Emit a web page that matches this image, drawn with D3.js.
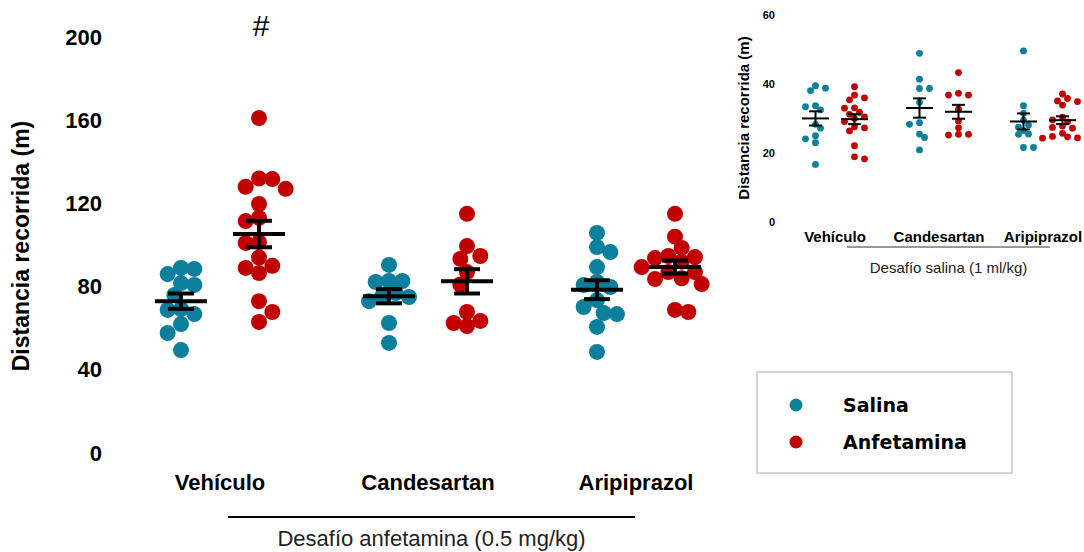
<!DOCTYPE html>
<html>
<head>
<meta charset="utf-8">
<script src="https://cdn.jsdelivr.net/npm/d3@7"></script>
<style>
  html, body { margin: 0; padding: 0; background: #fff; }
  svg { display: block; }
</style>
</head>
<body>
<svg id="chart" width="1084" height="552"></svg>
<script>
// Treatment groups and challenge series
const categories = ["Vehículo", "Candesartan", "Aripiprazol"];
const series = ["Salina", "Anfetamina"];
const seriesColors = ["#0b7f9b", "#c00000"];

// Desafío anfetamina (0.5 mg/kg): distance per animal (m), one array per treatment
const mainSalina = [
  [89, 88.5, 86, 81.7, 80.8, 76, 69.2, 68.8, 66.8, 62, 57.7, 49.5],
  [90.4, 82.7, 82.7, 82.2, 76.9, 75.5, 75, 73, 62.5, 52.9],
  [105.8, 99, 96.6, 89.4, 82.2, 80.8, 79.8, 73.5, 70.2, 67.3, 66.8, 60.6, 48.6]
];
const mainAnfetamina = [
  [161, 132, 131.7, 128, 127, 119.7, 113, 111.5, 101.4, 101, 94, 90, 89, 86.5, 73, 67.8, 63],
  [115, 99.5, 94.7, 93.3, 87, 81, 67.8, 63.5, 62.5, 61],
  [115, 104, 98.6, 94.7, 94.2, 93.7, 92, 89.4, 87, 87, 84, 83.6, 81.2, 68.8, 67.8]
];
const mainTicks = [0, 40, 80, 120, 160, 200];

// Desafío salina (1 ml/kg)
const insetSalina = [
  [39.5, 38.8, 38.1, 33.7, 33.4, 32.5, 28.3, 27.2, 25, 24.1, 23, 16.7],
  [48.9, 41.4, 38.7, 38.7, 34.7, 28.8, 28.3, 25.5, 24.5, 20.9],
  [49.6, 33.7, 31.5, 29.5, 28.1, 27.5, 26.5, 25.5, 25.4, 21.6, 21.6]
];
const insetAnfetamina = [
  [39.2, 36.8, 36, 35.4, 33.1, 33, 31.8, 31.2, 30.5, 30, 29.1, 27.6, 27.3, 26.4, 22.1, 18.9, 18.3],
  [43.3, 37.3, 36.8, 36.8, 32.7, 29.3, 27.3, 25.4, 25.4, 25.2],
  [37.1, 35.8, 35.1, 34.9, 33.9, 30.4, 29.6, 29, 27.8, 27.4, 27.2, 25.7, 24.8, 24.7, 24.4, 24.3]
];
const insetTicks = [0, 20, 40, 60];

const FONT = "'Liberation Sans', Arial, sans-serif";
const svg = d3.select("#chart");

// Horizontal dodge: points sorted by value, each takes the nearest column
// (multiples of `step`) where it does not collide with points already placed.
function swarm(values, y, step, minDist) {
  const order = d3.range(values.length).sort((a, b) => values[b] - values[a]);
  const placed = [];
  const offsets = new Array(values.length);
  order.forEach(i => {
    const py = y(values[i]);
    const balance = d3.sum(placed, p => p.x);
    for (let k = 0; k < 40; k++) {
      const cands = k === 0 ? [0] : (balance > 0 ? [-k * step, k * step] : [k * step, -k * step]);
      const ok = cands.find(cx => placed.every(p => Math.hypot(p.x - cx, p.y - py) >= minDist));
      if (ok !== undefined) {
        placed.push({ x: ok, y: py });
        offsets[i] = ok;
        return;
      }
    }
  });
  return offsets;
}

function drawPanel(opt) {
  const g = svg.append("g");
  const x = d3.scaleBand().domain(categories).range(opt.xRange);
  const xs = d3.scalePoint().domain(series).range([-opt.sub, opt.sub]);
  const y = d3.scaleLinear().domain(opt.yDomain).range(opt.yRange);
  const color = d3.scaleOrdinal().domain(series).range(seriesColors);

  // y tick labels (no axis line)
  const ya = g.append("g")
    .attr("transform", `translate(${opt.yAxisX},0)`)
    .call(d3.axisLeft(y).tickValues(opt.ticks).tickSize(0).tickPadding(8));
  ya.select(".domain").remove();
  ya.selectAll("text")
    .attr("font-family", FONT).attr("font-weight", "bold")
    .attr("font-size", opt.tickFont).attr("fill", "#000");

  // category labels
  const xa = g.append("g")
    .attr("transform", `translate(0,${opt.catY})`)
    .call(d3.axisBottom(x).tickSize(0));
  xa.select(".domain").remove();
  xa.selectAll("text")
    .attr("y", 0).attr("dy", 0)
    .attr("font-family", FONT).attr("font-weight", "bold")
    .attr("font-size", opt.catFont).attr("fill", "#000");

  // y title
  g.append("text")
    .attr("transform", `translate(${opt.titleX},${opt.titleY}) rotate(-90)`)
    .attr("text-anchor", "middle")
    .attr("font-family", FONT).attr("font-weight", "bold")
    .attr("font-size", opt.titleFont).attr("fill", "#000")
    .text("Distancia recorrida (m)");

  // challenge bracket and caption
  g.append("line")
    .attr("x1", opt.bracket[0]).attr("x2", opt.bracket[1])
    .attr("y1", opt.bracketY).attr("y2", opt.bracketY)
    .attr("stroke", opt.bracketColor).attr("stroke-width", opt.bracketW);
  g.append("text")
    .attr("x", (opt.bracket[0] + opt.bracket[1]) / 2).attr("y", opt.captionY)
    .attr("text-anchor", "middle")
    .attr("font-family", FONT).attr("font-size", opt.captionFont).attr("fill", "#222")
    .text(opt.caption);

  const sets = [opt.salina, opt.anfetamina];
  series.forEach((s, si) => {
    categories.forEach((c, ci) => {
      const vals = sets[si][ci];
      const cx = x(c) + x.bandwidth() / 2 + xs(s);
      const offs = swarm(vals, y, opt.step, opt.minDist);
      g.append("g").selectAll("circle")
        .data(vals)
        .join("circle")
        .attr("cx", (d, i) => cx + offs[i])
        .attr("cy", d => y(d))
        .attr("r", opt.r)
        .attr("fill", color(s));
    });
  });

  // mean ± SEM drawn over the dots
  series.forEach((s, si) => {
    categories.forEach((c, ci) => {
      const vals = sets[si][ci];
      const m = d3.mean(vals);
      const sem = d3.deviation(vals) / Math.sqrt(vals.length);
      const cx = x(c) + x.bandwidth() / 2 + xs(s);
      const eg = g.append("g").attr("stroke", "#000").attr("stroke-width", opt.barW);
      eg.append("line").attr("x1", cx - opt.meanW / 2).attr("x2", cx + opt.meanW / 2)
        .attr("y1", y(m)).attr("y2", y(m));
      eg.append("line").attr("x1", cx).attr("x2", cx)
        .attr("y1", y(m - sem)).attr("y2", y(m + sem));
      [m - sem, m + sem].forEach(v => {
        eg.append("line").attr("x1", cx - opt.capW / 2).attr("x2", cx + opt.capW / 2)
          .attr("y1", y(v)).attr("y2", y(v));
      });
    });
  });
  return { x, xs, y };
}

// Main panel: amphetamine challenge
const main = drawPanel({
  xRange: [116, 740], sub: 39,
  yDomain: [0, 200], yRange: [453, 37], ticks: mainTicks,
  yAxisX: 110, tickFont: 22,
  catY: 490, catFont: 22,
  titleX: 29, titleY: 246, titleFont: 23,
  bracket: [228, 635], bracketY: 517, bracketW: 2, bracketColor: "#000",
  captionY: 546, captionFont: 22, caption: "Desafío anfetamina (0.5 mg/kg)",
  salina: mainSalina, anfetamina: mainAnfetamina,
  r: 8, step: 20 / 3, minDist: 13,
  meanW: 52, capW: 26, barW: 4
});

// significance mark over Vehículo + Anfetamina
svg.append("text")
  .attr("x", main.x("Vehículo") + main.x.bandwidth() / 2 + main.xs("Anfetamina") + 2)
  .attr("y", 36)
  .attr("text-anchor", "middle")
  .attr("font-family", FONT).attr("font-size", 30).attr("fill", "#000")
  .text("#");

// Inset panel: saline challenge
drawPanel({
  xRange: [783, 1095], sub: 19.5,
  yDomain: [0, 60], yRange: [222, 15], ticks: insetTicks,
  yAxisX: 783, tickFont: 11,
  catY: 242, catFont: 15,
  titleX: 749, titleY: 118, titleFont: 15,
  bracket: [847, 1050], bracketY: 247, bracketW: 1, bracketColor: "#333",
  captionY: 273, captionFont: 15, caption: "Desafío salina (1 ml/kg)",
  salina: insetSalina, anfetamina: insetAnfetamina,
  r: 3.4, step: 5, minDist: 6,
  meanW: 27, capW: 13, barW: 2
});

// Legend
const lg = svg.append("g");
lg.append("rect")
  .attr("x", 757).attr("y", 372).attr("width", 255).attr("height", 101)
  .attr("fill", "#fff").attr("stroke", "#d4d4d4").attr("stroke-width", 2);
series.forEach((s, i) => {
  const ly = 405 + i * 37;
  lg.append("circle").attr("cx", 796).attr("cy", ly).attr("r", 6.5).attr("fill", seriesColors[i]);
  lg.append("text").attr("x", 843).attr("y", ly + 7)
    .attr("font-family", "'DejaVu Sans', Verdana, sans-serif").attr("font-weight", "bold")
    .attr("font-size", 19).attr("fill", "#000")
    .text(s);
});
</script>
</body>
</html>
